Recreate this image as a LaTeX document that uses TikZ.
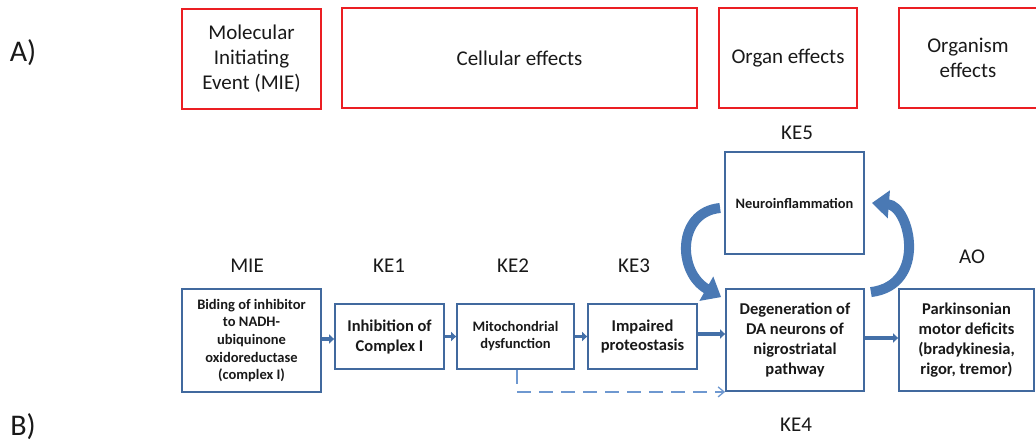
\documentclass[tikz,border=0pt]{standalone}
\usepackage{fontspec}
\setmainfont{Carlito}
\usetikzlibrary{arrows.meta,calc}
\definecolor{redbox}{RGB}{235,30,35}
\definecolor{bluebox}{RGB}{65,105,158}
\definecolor{arrowblue}{RGB}{68,112,168}
\definecolor{curveblue}{RGB}{74,121,180}
\definecolor{dashblue}{RGB}{110,152,208}
\definecolor{txt}{RGB}{25,25,25}
\begin{document}
\begin{tikzpicture}[x=1pt,y=-1pt,
  redrect/.style={draw=redbox, line width=1.6pt, inner sep=0pt, align=center, text=txt,
    font=\fontsize{21}{25}\selectfont},
  bluerect/.style={draw=bluebox, line width=1.8pt, inner sep=0pt, align=center, text=txt},
  lbl/.style={inner sep=0pt, text=txt, font=\fontsize{21}{25}\selectfont},
  partlbl/.style={inner sep=0pt, text=txt, font=\fontsize{30}{34}\selectfont},
  flow/.style={draw=arrowblue, line width=3.8pt, -{Triangle[length=5pt,width=9pt]}},
  dasharrow/.style={draw=dashblue, line width=1.3pt, dash pattern=on 14pt off 8pt,
    -{Straight Barb[length=6pt,width=10pt]}},
  bigarrow/.style={draw=curveblue, line width=10pt, -{Triangle[length=17pt,width=27pt]}}]
\useasboundingbox (0,0) rectangle (1036,444);

% Part A
\node[partlbl] (la) at (23,53) {A)};
\node[redrect, minimum width=139pt, minimum height=100pt] (tmie) at (251.5,59) {Molecular\\Initiating\\Event (MIE)};
\node[redrect, minimum width=355pt, minimum height=100pt] (tcell) at (519.5,58) {Cellular effects};
\node[redrect, minimum width=138pt, minimum height=100pt] (torgan) at (788,58) {Organ effects};
\node[redrect, minimum width=138pt, minimum height=100pt] (torgm) at (968,58) {Organism\\effects};

% Part B
\node[partlbl] (lb) at (23,427) {B)};

\node[bluerect, minimum width=139pt, minimum height=103pt,
  font=\fontsize{14.5}{17.7}\selectfont\bfseries] (mie) at (251.5,340.5)
  {Biding of inhibitor\\to NADH-\\ubiquinone\\oxidoreductase\\(complex I)};
\node[bluerect, minimum width=109pt, minimum height=65pt,
  font=\fontsize{16.5}{20}\selectfont\bfseries] (ke1) at (389.5,336.5)
  {Inhibition of\\Complex I};
\node[bluerect, minimum width=117pt, minimum height=65pt,
  font=\fontsize{14.5}{17}\selectfont\bfseries] (ke2) at (515.5,336.5)
  {Mitochondrial\\dysfunction};
\node[bluerect, minimum width=109pt, minimum height=65pt,
  font=\fontsize{16.5}{19}\selectfont\bfseries] (ke3) at (642.5,336.5)
  {Impaired\\proteostasis};
\node[bluerect, minimum width=138pt, minimum height=102pt,
  font=\fontsize{16.5}{20}\selectfont\bfseries] (ke4) at (795,340)
  {Degeneration of\\DA neurons of\\nigrostriatal\\pathway};
\node[bluerect, minimum width=135pt, minimum height=102pt,
  font=\fontsize{16.5}{20}\selectfont\bfseries] (ao) at (966.5,340)
  {Parkinsonian\\motor deficits\\(bradykinesia,\\rigor, tremor)};
\node[bluerect, minimum width=139pt, minimum height=102pt,
  font=\fontsize{14.4}{17}\selectfont\bfseries] (ke5) at (794.5,203)
  {Neuroinflammation};

% labels
\node[lbl] (lmie) at (247,266) {MIE};
\node[lbl] (lke1) at (389,266) {KE1};
\node[lbl] (lke2) at (513,266) {KE2};
\node[lbl] (lke3) at (634,266) {KE3};
\node[lbl] (lke5) at (797,133) {KE5};
\node[lbl] (lao) at (972,257) {AO};
\node[lbl] (lke4) at (796,425) {KE4};

% connectors
\draw[flow] (mie.east |- 0,339) -- (ke1.west |- 0,339);
\draw[flow] (ke1.east) -- (ke2.west);
\draw[flow] (ke2.east) -- (ke3.west);
\draw[flow] (ke3.east |- 0,334) -- (ke4.west |- 0,334);
\draw[flow] (ke4.east |- 0,338) -- (ao.west |- 0,338);
\draw[dasharrow] ([xshift=1.5pt]ke2.south) |- (ke4.south west);

\coordinate (c1s) at ([xshift=-4pt,yshift=-5pt]ke5.west);
\coordinate (c1e) at ([xshift=-4pt,yshift=-9pt]ke4.north west);
\coordinate (c2s) at ([xshift=6pt,yshift=-4pt]ke4.north east);
\coordinate (c2e) at ([xshift=7pt]ke5.east);
\draw[bigarrow] (c1s) .. controls (677,212) and (677,272) .. (c1e);
\draw[bigarrow] (c2s) .. controls (928,285) and (910,206) .. (c2e);
\end{tikzpicture}
\end{document}
